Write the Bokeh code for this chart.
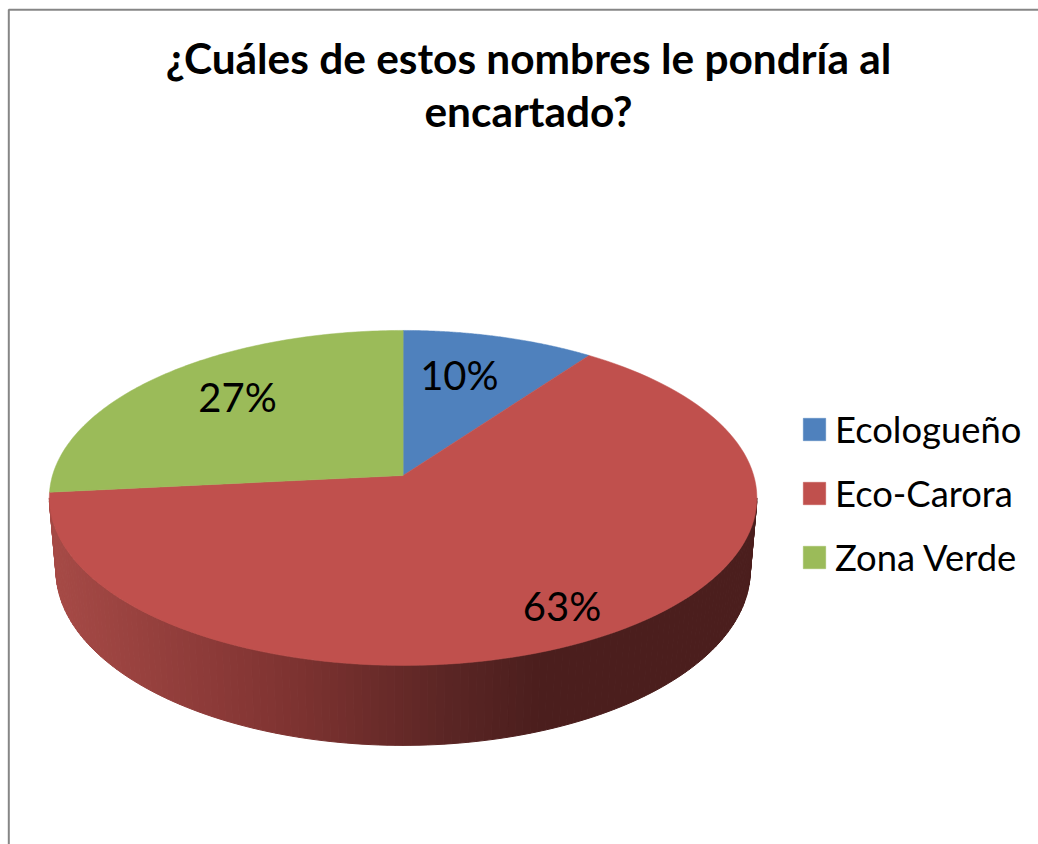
import numpy as np
from bokeh.plotting import figure
from bokeh.models import Range1d, Legend, LegendItem
from bokeh.core.properties import value
from bokeh.embed import file_html
from bokeh.resources import INLINE

# ---- data ----
title_lines = ["¿Cuáles de estos nombres le pondría al", "encartado?"]
categories = ["Ecologueño", "Eco-Carora", "Zona Verde"]
percents = [10, 63.4, 26.6]
colors = ["#4F81BD", "#C0504D", "#9BBB59"]

# ---- layout (picture pixels) ----
W, H = 1038, 844
CX, CY = 402.6, 475          # apex of the slices
A, B, K = 350.6, 164.5, 0.134
A2, B2, CY2 = 344.0, 171.8, 546.5  # lower rim
FONT = "Lato"

def rim(theta, a=A, b=B, cy=CY, r=1.0):
    u, v = r * np.sin(theta), r * np.cos(theta)
    d = 1 + K * v
    return CX + a * u / d, cy - b * v / d

p = figure(width=W, height=H, x_range=Range1d(0, W), y_range=Range1d(H, 0),
           x_axis_type=None, y_axis_type=None, toolbar_location=None,
           output_backend="svg", min_border=0, outline_line_color=None,
           background_fill_color="white", border_fill_color="white")
p.grid.visible = False

# border of the chart area (runs off the right and bottom of the picture)
p.line([8.3, 8.3, W], [H, 9.2, 9.2], line_color="#868686", line_width=2)

# slices
edges = np.cumsum([0] + percents) / sum(percents) * 2 * np.pi
# outer wall, visible part of the big slice, shaded by x
stops_x = [50, 200, 300, 450, 540, 760]
stops_c = [(0xA6, 0x4A, 0x46), (0x8E, 0x3B, 0x39), (0x7C, 0x32, 0x30),
           (0x5A, 0x25, 0x24), (0x4B, 0x1E, 0x1D), (0x4B, 0x1E, 0x1D)]
tang = np.arcsin(K)
th = np.linspace(np.pi / 2 + tang, 3 * np.pi / 2 - tang, 141)
th = th[(th >= edges[1]) & (th <= edges[2] + 0.01)]
xs, ys, cs = [], [], []
for t0, t1 in zip(th[:-1], th[1:]):
    x0, y0 = rim(t0)
    x1, y1 = rim(t1)
    x2, y2 = rim(t1, A2, B2, CY2)
    x3, y3 = rim(t0, A2, B2, CY2)
    xs.append([x0, x1, x2, x3])
    ys.append([y0, y1, y2, y3])
    mx = (x0 + x1) / 2
    cs.append("#%02x%02x%02x" % tuple(int(round(np.interp(mx, stops_x, [c[i] for c in stops_c]))) for i in range(3)))
p.patches(xs, ys, fill_color=cs, line_color=cs, line_width=1)

items = []
for i, cat in enumerate(categories):
    t = np.linspace(edges[i], edges[i + 1], 120)
    x, y = rim(t)
    r = p.patch(np.r_[CX, x], np.r_[CY, y], fill_color=colors[i], line_color=colors[i], line_width=0.5)
    items.append(LegendItem(label=cat, renderers=[r]))

# data labels
label_r = [0.696, 0.825, 0.756]
label_nudge = [-13, -0.5, 18.5]
mid = (edges[:-1] + edges[1:]) / 2
lx, ly = [], []
for m, r_, n in zip(mid, label_r, label_nudge):
    x, y = rim(m, r=r_)
    lx.append(float(x) + n)
    ly.append(float(y))
p.text(lx, ly, text=[f"{v:.0f}%" for v in percents], text_font=value(FONT), text_font_size="40px",
       text_color="black", text_align="center", text_baseline="middle")

# title
p.text([528, 528], [57, 110], text=title_lines, text_font=value(FONT), text_font_style="bold",
       text_font_size="42.4px", text_color="black", text_align="center", text_baseline="middle")

# legend
leg = Legend(items=items, location=(800, 265), orientation="vertical", border_line_color=None,
             background_fill_alpha=0, padding=0, margin=0, glyph_width=28, glyph_height=28,
             label_text_font=FONT, label_text_font_size="36.4px", label_text_color="black",
             label_standoff=7, spacing=20, label_height=28, label_text_baseline="middle")
p.add_layout(leg, "center")

open("out.html", "w").write(file_html(p, INLINE))
